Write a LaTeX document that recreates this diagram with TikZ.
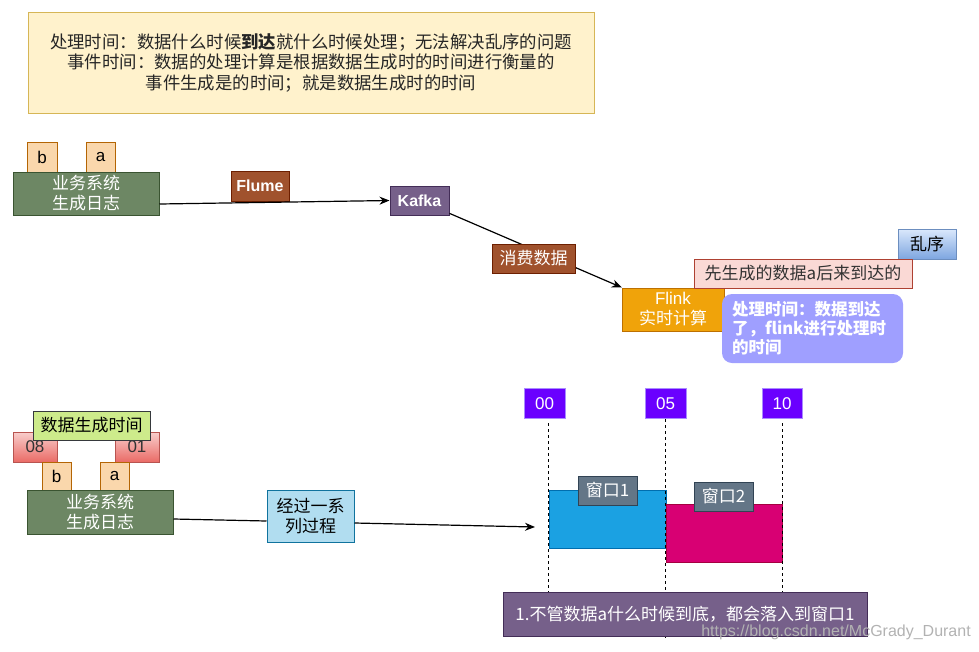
\documentclass[tikz,border=0pt]{standalone}
\usepackage{fontspec}
\setmainfont{Noto Sans CJK SC}
\newfontfamily\latin{Liberation Sans}
\usepackage{tikz}
\usetikzlibrary{arrows.meta}
\usepackage{xcolor}
\definecolor{notefill}{HTML}{FFF2CC}
\definecolor{noteline}{HTML}{D6B656}
\definecolor{letterfill}{HTML}{FAD7AC}
\definecolor{letterline}{HTML}{B46504}
\definecolor{logfill}{HTML}{6D8764}
\definecolor{logline}{HTML}{3A5431}
\definecolor{brownfill}{HTML}{A0522D}
\definecolor{brownline}{HTML}{6D1F00}
\definecolor{purplefill}{HTML}{76608A}
\definecolor{purpleline}{HTML}{432D57}
\definecolor{flinkfill}{HTML}{F0A30A}
\definecolor{flinkline}{HTML}{BD7000}
\definecolor{bluetop}{HTML}{DAE8FC}
\definecolor{bluebottom}{HTML}{7EA6E0}
\definecolor{blueline}{HTML}{6C8EBF}
\definecolor{pinkfill}{HTML}{FAD9D5}
\definecolor{pinkline}{HTML}{AE4132}
\definecolor{bubblefill}{HTML}{9F9FFF}
\definecolor{redtop}{HTML}{F8CECC}
\definecolor{redbottom}{HTML}{EA6B66}
\definecolor{redline}{HTML}{B85450}
\definecolor{limefill}{HTML}{CDEB8B}
\definecolor{limeline}{HTML}{36393D}
\definecolor{procfill}{HTML}{B1DDF0}
\definecolor{procline}{HTML}{10739E}
\definecolor{timefill}{HTML}{6A00FF}
\definecolor{timeborder}{HTML}{A98CFF}
\definecolor{winblue}{HTML}{1BA1E2}
\definecolor{winblueline}{HTML}{006EAF}
\definecolor{winmagenta}{HTML}{D80073}
\definecolor{winmagentaline}{HTML}{A50040}
\definecolor{labelfill}{HTML}{647687}
\definecolor{labelline}{HTML}{314354}

\begin{document}
\begin{tikzpicture}[x=1pt, y=-1pt, >={Stealth[length=10pt,width=8pt]},
    basebox/.style={draw, line width=1pt, inner sep=0pt, align=center, font=\fontsize{17}{20}\selectfont},
    dim/.style 2 args={minimum width=#1pt, minimum height=#2pt},
    latinbox/.style={basebox, font=\latin\fontsize{17}{20}\selectfont},
    letterbox/.style={latinbox, fill=letterfill, draw=letterline},
    logbox/.style={basebox, fill=logfill, draw=logline, text=white},
    brownbox/.style={basebox, fill=brownfill, draw=brownline, text=white},
    purplebox/.style={basebox, fill=purplefill, draw=purpleline, text=white},
    redbox/.style={latinbox, top color=redtop, bottom color=redbottom, draw=redline, text=black!80, dim={44}{30}},
    timebox/.style={latinbox, fill=timefill, draw=timeborder, text=white, dim={41}{30}},
    winlabel/.style={basebox, fill=labelfill, draw=labelline, text=white, dim={59}{29}},
    flow/.style={line width=1.2pt},
    vline/.style={dashed, line width=1.2pt}]
    \useasboundingbox (0,0) rectangle (979,651);

    % Nota
    \node[basebox, fill=notefill, draw=noteline, text=black!85, dim={566}{101}, font=\fontsize{17.4}{20.5}\selectfont] (note) at (311,62.5)
        {处理时间：数据什么时候\textbf{到达}就什么时候处理；无法解决乱序的问题\\事件时间：数据的处理计算是根据数据生成时的时间进行衡量的\\事件生成是的时间；就是数据生成时的时间};

    % Processamento
    \node[letterbox, dim={30}{30}] (b1) at (42,157) {b};
    \node[letterbox, dim={29}{30}] (a1) at (100.5,157) {a};
    \node[logbox, dim={146}{43}] (log1) at (86,193.5) {业务系统\\生成日志};
    \node[brownbox, dim={58}{30}, font=\latin\bfseries\fontsize{16}{20}\selectfont] (flume) at (260,186) {Flume};
    \node[purplebox, dim={59}{29}, font=\latin\bfseries\fontsize{16}{20}\selectfont] (kafka) at (419.5,200.5) {Kafka};
    \node[basebox, fill=flinkfill, draw=flinkline, text=white, dim={102}{43}] (flink) at (673,309.5) {{\latin Flink}\\实时计算};
    \draw[flow, ->] ([yshift=-10.5pt]log1.east) -- (kafka.west);
    \draw[flow, ->] (kafka) -- (flink);
    \node[brownbox, dim={83}{29}] (consume) at (533.5,258.5) {消费数据};

    \node[basebox, top color=bluetop, bottom color=bluebottom, draw=blueline, dim={58}{30}] (outoforder) at (927,244) {乱序};
    \node[basebox, fill=pinkfill, draw=pinkline, text=black!80, dim={218}{29}] (latedata) at (803,273.5) {先生成的数据a后来到达的};
    \node[basebox, fill=bubblefill, draw=none, rounded corners=10pt, text=white, align=left, text width=161pt, inner xsep=10pt, dim={181}{69}, font=\fontsize{16.5}{19}\selectfont\bfseries] (proctime) at (812.5,328.5)
        {处理时间：数据到达\\了，flink进行处理时\\的时间};

    % Eventos
    \node[redbox] (t08) at (35,447) {08};
    \node[redbox] (t01) at (137,447) {01};
    \node[basebox, fill=limefill, draw=limeline, dim={117}{29}] (gentime) at (91.5,425.5) {数据生成时间};
    \node[letterbox, dim={29}{28}] (b2) at (56.5,476) {b};
    \node[letterbox, dim={29}{28}] (a2) at (114.5,476) {a};
    \node[logbox, dim={146}{44}] (log2) at (100,512) {业务系统\\生成日志};
    \node[basebox, fill=procfill, draw=procline, dim={87}{52}] (process) at (310.5,516) {经过一系\\列过程};
    \coordinate (arrival) at (535,527);
    \draw[flow] ([yshift=-7pt]log2.east) -- ([yshift=-5pt]process.west);
    \draw[flow, ->] ([yshift=-7pt]process.east) -- (arrival);

    % Janelas
    \node[basebox, fill=winblue, draw=winblueline, dim={117}{58}] (win1) at (607.5,519) {};
    \node[basebox, fill=winmagenta, draw=winmagentaline, dim={116}{58}] (win2) at (724,533) {};
    \node[timebox] (t00) at (544.5,403.5) {00};
    \node[timebox] (t05) at (665.5,403.5) {05};
    \node[timebox, dim={40}{30}] (t10) at (782,403.5) {10};
    \coordinate (floor) at (0,600);
    \coordinate (floorlow) at (0,639);
    \draw[vline, shorten <=4pt] (t00.south -| win1.west) -- (win1.west |- floor);
    \draw[vline] (t05.south -| win2.west) -- (win2.west |- floorlow);
    \draw[vline, shorten <=4pt] (t10.south -| win2.east) -- (win2.east |- floor);
    \node[purplebox, dim={364}{44}] (pending) at (685,614) {1.不管数据a什么时候到底，都会落入到窗口1};
    \node[winlabel] (label1) at (607.5,490.5) {窗口1};
    \node[winlabel] (label2) at (723.5,496.5) {窗口2};

    % Marca
    \node[text=gray!60, font=\latin\fontsize{16}{18}\selectfont, inner sep=0pt] (mark) at (836,632) {https://blog.csdn.net/McGrady\_Durant};
\end{tikzpicture}
\end{document}
